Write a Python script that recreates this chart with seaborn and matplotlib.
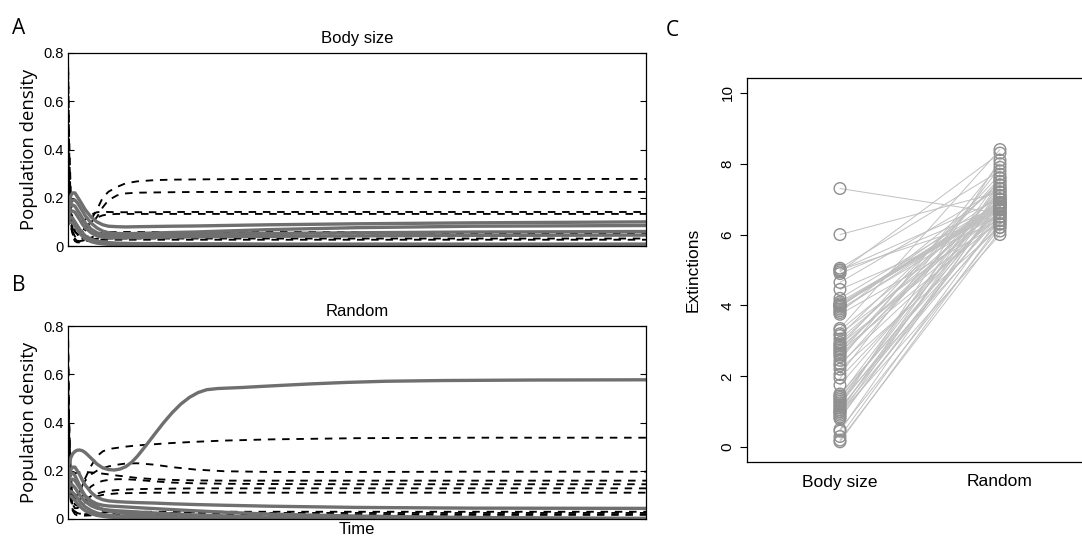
import numpy as np
import pandas as pd
import matplotlib
matplotlib.use("Agg")
import matplotlib.pyplot as plt
import seaborn as sns

# ---------------- data ----------------
time = [0, 2, 5, 8, 12, 16, 20, 25, 30, 40, 50, 60, 70, 85, 100, 120, 150, 180, 220, 270, 350, 500, 700, 1000]

# Panel A (Body size) - dashed black trajectories
a_dashed = [
    [0.78, 0.45, 0.20, 0.10, 0.06, 0.05, 0.05, 0.06, 0.08, 0.11, 0.15, 0.20, 0.225, 0.245, 0.26, 0.268, 0.273, 0.275, 0.276, 0.277, 0.278, 0.279, 0.278, 0.278],
    [0.60, 0.35, 0.16, 0.09, 0.06, 0.05, 0.05, 0.055, 0.065, 0.09, 0.12, 0.16, 0.19, 0.21, 0.218, 0.221, 0.222, 0.223, 0.224, 0.224, 0.224, 0.224, 0.224, 0.224],
    [0.35, 0.22, 0.13, 0.10, 0.09, 0.085, 0.09, 0.10, 0.11, 0.13, 0.14, 0.142, 0.141, 0.14, 0.14, 0.14, 0.14, 0.141, 0.141, 0.141, 0.141, 0.141, 0.141, 0.141],
    [0.45, 0.25, 0.12, 0.07, 0.05, 0.045, 0.05, 0.06, 0.075, 0.10, 0.118, 0.127, 0.131, 0.133, 0.133, 0.133, 0.133, 0.133, 0.133, 0.133, 0.133, 0.133, 0.133, 0.133],
    [0.30, 0.18, 0.10, 0.06, 0.04, 0.03, 0.028, 0.03, 0.035, 0.045, 0.052, 0.056, 0.058, 0.058, 0.058, 0.058, 0.058, 0.058, 0.058, 0.058, 0.058, 0.058, 0.058, 0.058],
    [0.80, 0.40, 0.15, 0.06, 0.03, 0.02, 0.018, 0.02, 0.025, 0.035, 0.045, 0.05, 0.052, 0.052, 0.052, 0.052, 0.052, 0.052, 0.052, 0.052, 0.052, 0.052, 0.052, 0.052],
    [0.25, 0.15, 0.08, 0.05, 0.03, 0.022, 0.02, 0.022, 0.025, 0.028, 0.03, 0.031, 0.031, 0.031, 0.031, 0.031, 0.031, 0.031, 0.031, 0.031, 0.031, 0.031, 0.031, 0.031],
    [0.50, 0.28, 0.10, 0.04, 0.02, 0.015, 0.015, 0.017, 0.02, 0.023, 0.025, 0.026, 0.026, 0.026, 0.026, 0.026, 0.026, 0.026, 0.026, 0.026, 0.026, 0.026, 0.026, 0.026],
]
# Panel A - solid grey trajectories
a_grey = [
    [0.15, 0.18, 0.21, 0.22, 0.22, 0.205, 0.19, 0.17, 0.15, 0.12, 0.10, 0.088, 0.082, 0.08, 0.079, 0.08, 0.081, 0.082, 0.083, 0.085, 0.088, 0.092, 0.096, 0.10],
    [0.12, 0.15, 0.18, 0.19, 0.19, 0.18, 0.165, 0.145, 0.125, 0.095, 0.075, 0.062, 0.055, 0.052, 0.051, 0.052, 0.054, 0.056, 0.058, 0.062, 0.068, 0.076, 0.082, 0.085],
    [0.14, 0.16, 0.17, 0.17, 0.165, 0.15, 0.135, 0.115, 0.095, 0.07, 0.055, 0.048, 0.045, 0.044, 0.044, 0.045, 0.046, 0.047, 0.048, 0.05, 0.052, 0.055, 0.058, 0.06],
    [0.11, 0.13, 0.145, 0.145, 0.14, 0.125, 0.11, 0.09, 0.075, 0.055, 0.042, 0.036, 0.034, 0.034, 0.034, 0.035, 0.036, 0.037, 0.038, 0.039, 0.04, 0.042, 0.044, 0.045],
    [0.10, 0.11, 0.12, 0.115, 0.10, 0.085, 0.07, 0.055, 0.042, 0.028, 0.02, 0.016, 0.014, 0.012, 0.011, 0.01, 0.01, 0.009, 0.009, 0.009, 0.008, 0.008, 0.008, 0.008],
    [0.09, 0.095, 0.10, 0.095, 0.085, 0.07, 0.055, 0.04, 0.03, 0.018, 0.012, 0.009, 0.007, 0.006, 0.005, 0.005, 0.004, 0.004, 0.004, 0.003, 0.003, 0.003, 0.003, 0.003],
]

# Panel B (Random) - dashed black trajectories
b_dashed = [
    [0.75, 0.40, 0.18, 0.10, 0.08, 0.09, 0.11, 0.14, 0.17, 0.22, 0.26, 0.28, 0.29, 0.295, 0.30, 0.305, 0.31, 0.315, 0.32, 0.325, 0.33, 0.335, 0.337, 0.337],
    [0.50, 0.30, 0.15, 0.10, 0.09, 0.10, 0.12, 0.14, 0.16, 0.185, 0.20, 0.21, 0.218, 0.225, 0.23, 0.231, 0.225, 0.215, 0.205, 0.198, 0.195, 0.195, 0.196, 0.196],
    [0.60, 0.35, 0.20, 0.19, 0.19, 0.192, 0.194, 0.195, 0.195, 0.193, 0.19, 0.188, 0.185, 0.18, 0.176, 0.17, 0.165, 0.162, 0.16, 0.159, 0.159, 0.159, 0.159, 0.159],
    [0.40, 0.25, 0.14, 0.09, 0.07, 0.07, 0.08, 0.095, 0.11, 0.135, 0.15, 0.158, 0.162, 0.165, 0.165, 0.162, 0.156, 0.151, 0.148, 0.146, 0.145, 0.144, 0.144, 0.144],
    [0.30, 0.20, 0.12, 0.08, 0.06, 0.055, 0.06, 0.07, 0.08, 0.095, 0.105, 0.112, 0.117, 0.12, 0.122, 0.124, 0.125, 0.126, 0.127, 0.127, 0.127, 0.127, 0.127, 0.127],
    [0.35, 0.20, 0.10, 0.06, 0.045, 0.045, 0.05, 0.06, 0.07, 0.085, 0.094, 0.10, 0.103, 0.106, 0.107, 0.108, 0.109, 0.109, 0.109, 0.109, 0.109, 0.109, 0.109, 0.109],
    [0.80, 0.40, 0.12, 0.05, 0.03, 0.025, 0.022, 0.022, 0.023, 0.025, 0.027, 0.028, 0.029, 0.03, 0.03, 0.03, 0.03, 0.03, 0.03, 0.03, 0.03, 0.03, 0.03, 0.03],
    [0.28, 0.15, 0.07, 0.04, 0.03, 0.025, 0.022, 0.02, 0.02, 0.021, 0.022, 0.023, 0.024, 0.025, 0.025, 0.025, 0.025, 0.025, 0.025, 0.025, 0.025, 0.025, 0.025, 0.025],
    [0.45, 0.22, 0.08, 0.035, 0.02, 0.015, 0.013, 0.013, 0.014, 0.015, 0.016, 0.017, 0.017, 0.017, 0.017, 0.017, 0.017, 0.017, 0.017, 0.017, 0.017, 0.017, 0.017, 0.017],
]
# Panel B - the one dominant grey species (read at a finer time resolution)
b_top_time = [0, 2, 5, 8, 12, 16, 20, 25, 30, 40, 50, 60, 70, 80, 90, 100, 110, 120, 135, 150,
              165, 180, 195, 210, 225, 240, 260, 280, 300, 330, 370, 420, 480, 550, 650, 800, 1000]
b_top_values = [0.20, 0.23, 0.255, 0.27, 0.28, 0.285, 0.286, 0.283, 0.275, 0.252, 0.228, 0.212, 0.205, 0.203, 0.207, 0.217, 0.235, 0.26, 0.305, 0.352,
                0.398, 0.44, 0.476, 0.504, 0.524, 0.536, 0.541, 0.543, 0.545, 0.549, 0.554, 0.56, 0.566, 0.571, 0.574, 0.576, 0.577]
# Panel B - other solid grey trajectories
b_grey = [
    [0.15, 0.18, 0.205, 0.215, 0.215, 0.20, 0.185, 0.16, 0.14, 0.11, 0.09, 0.08, 0.075, 0.072, 0.07, 0.068, 0.066, 0.063, 0.06, 0.057, 0.053, 0.048, 0.045, 0.044],
    [0.13, 0.15, 0.165, 0.165, 0.16, 0.145, 0.13, 0.11, 0.095, 0.075, 0.063, 0.057, 0.054, 0.052, 0.05, 0.047, 0.043, 0.039, 0.034, 0.028, 0.02, 0.012, 0.006, 0.003],
    [0.12, 0.135, 0.145, 0.14, 0.13, 0.115, 0.10, 0.085, 0.072, 0.055, 0.045, 0.04, 0.037, 0.034, 0.032, 0.029, 0.025, 0.021, 0.017, 0.013, 0.008, 0.004, 0.002, 0.001],
    [0.10, 0.11, 0.115, 0.11, 0.10, 0.088, 0.075, 0.062, 0.05, 0.035, 0.025, 0.019, 0.016, 0.013, 0.011, 0.009, 0.007, 0.005, 0.004, 0.003, 0.002, 0.001, 0.001, 0.0],
    [0.14, 0.17, 0.19, 0.19, 0.18, 0.16, 0.14, 0.115, 0.095, 0.068, 0.05, 0.04, 0.033, 0.027, 0.023, 0.018, 0.013, 0.009, 0.006, 0.004, 0.002, 0.001, 0.0, 0.0],
    [0.09, 0.095, 0.095, 0.088, 0.077, 0.065, 0.055, 0.043, 0.034, 0.022, 0.015, 0.011, 0.008, 0.006, 0.005, 0.004, 0.003, 0.002, 0.001, 0.001, 0.0, 0.0, 0.0, 0.0],
]

# Panel C - paired extinctions
conditions = ["Body size", "Random"]
ext_body_size = [7.3, 6.0, 5.05, 5.0, 5.0, 4.95, 4.9, 4.65, 4.45, 4.2,
                 4.1, 4.05, 4.0, 4.0, 4.0, 4.0, 4.0, 3.95, 3.9, 3.85,
                 3.8, 3.75, 3.35, 3.3, 3.2, 3.15, 3.05, 2.95, 2.9, 2.85,
                 2.8, 2.75, 2.7, 2.65, 2.6, 2.55, 2.45, 2.35, 2.3, 2.2,
                 2.05, 1.95, 1.75, 1.5, 1.45, 1.4, 1.35, 1.3, 1.25, 1.2,
                 1.15, 1.1, 1.05, 1.0, 1.0, 0.95, 0.9, 0.85, 0.8, 0.5,
                 0.45, 0.3, 0.2, 0.15]
ext_random = [6.6, 7.2, 7.8, 6.5, 7.0, 8.3, 6.8, 7.3, 6.4, 6.9,
              6.7, 6.8, 6.75, 6.8, 6.85, 6.7, 6.9, 7.1, 6.6, 6.8,
              7.4, 6.3, 8.4, 7.0, 6.6, 7.5, 6.9, 7.2, 6.5, 7.7,
              6.8, 7.0, 6.4, 7.6, 6.9, 7.1, 8.0, 6.6, 7.3, 6.2,
              7.9, 6.7, 7.0, 6.5, 7.4, 6.8, 7.2, 6.3, 7.6, 6.9,
              8.1, 6.6, 7.1, 6.4, 7.5, 6.0, 7.3, 6.7, 6.9, 6.2,
              7.0, 6.5, 6.1, 6.3]

density_ticks = [0, 0.2, 0.4, 0.6, 0.8]
density_ticklabels = ["0", "0.2", "0.4", "0.6", "0.8"]
ext_ticks = [0, 2, 4, 6, 8, 10]

# ---------------- style ----------------
sns.set_style("white")
plt.rcParams["font.family"] = ["Liberation Sans", "DejaVu Sans"]
plt.rcParams["axes.edgecolor"] = "black"
plt.rcParams["axes.linewidth"] = 0.9
for key in ["text.color", "axes.labelcolor", "xtick.color", "ytick.color"]:
    plt.rcParams[key] = "black"

W, H = 1082, 538
fig = plt.figure(figsize=(W / 100, H / 100), dpi=100)

def frac(x0, y0, x1, y1):
    return [x0 / W, 1 - y1 / H, (x1 - x0) / W, (y1 - y0) / H]

axA = fig.add_axes(frac(68, 53, 646, 246))
axB = fig.add_axes(frac(68, 326, 646, 519))
axC = fig.add_axes(frac(747, 78, 1100, 462))

dash_style = (0, (4, 3.6))
grey_col = "#6f6f6f"

def draw_ts(ax, dashed, grey, title, extra=None):
    for vals in dashed:
        sns.lineplot(x=time, y=vals, ax=ax, color="black", lw=1.35,
                     linestyle=dash_style, estimator=None)
    for vals in grey:
        sns.lineplot(x=time, y=vals, ax=ax, color=grey_col, lw=2.4,
                     estimator=None)
    if extra is not None:
        sns.lineplot(x=extra[0], y=extra[1], ax=ax, color=grey_col, lw=2.4,
                     estimator=None)
    ax.set_xlim(0, 1000)
    ax.set_ylim(0, 0.8)
    ax.set_xticks([])
    ax.set_yticks(density_ticks)
    ax.set_yticklabels(density_ticklabels)
    ax.tick_params(axis="y", direction="in", left=True, right=True,
                   labelright=False, length=4.3, width=0.8, labelsize=10.5, pad=3)
    for s in ax.spines.values():
        s.set_visible(True)
        s.set_linewidth(0.9)
    ax.set_title(title, fontsize=12, pad=7)
    ax.set_ylabel("Population density", family=["Open Sans", "DejaVu Sans"],
                  fontsize=13.3, labelpad=4)
    ax.set_xlabel("")

draw_ts(axA, a_dashed, a_grey, "Body size")
draw_ts(axB, b_dashed, b_grey, "Random", extra=(b_top_time, b_top_values))
axB.set_xlabel("Time", fontsize=12, labelpad=2)

# Panel C
n = len(ext_body_size)
df = pd.DataFrame({
    "id": list(range(n)) * 2,
    "pos": [0] * n + [1] * n,
    "ext": ext_body_size + ext_random,
})
sns.lineplot(data=df, x="pos", y="ext", units="id", estimator=None,
             color="#c0c0c0", lw=0.7, ax=axC)
axC.scatter(df["pos"], df["ext"], s=70, facecolors="none",
            edgecolors="#8f8f8f", linewidths=1.0, zorder=3)
axC.set_xlim(-0.581, 1.625)
axC.set_ylim(-0.42, 10.42)
axC.set_xticks([0, 1])
axC.set_xticklabels(conditions)
axC.set_yticks(ext_ticks)
axC.set_yticklabels([str(v) for v in ext_ticks])
axC.tick_params(axis="x", length=0, pad=9, labelsize=12.5)
axC.tick_params(axis="y", direction="out", left=True, length=5, width=0.8,
                labelsize=11, labelrotation=90, pad=4)
for lbl in axC.get_yticklabels():
    lbl.set_va("center")
for s in axC.spines.values():
    s.set_visible(True)
    s.set_linewidth(0.9)
axC.set_xlabel("")
axC.set_ylabel("Extinctions", fontsize=12.5, labelpad=14)

# panel letters
letter_font = ["Open Sans", "DejaVu Sans"]
fig.text(12 / W, 1 - 34 / H, "A", fontsize=15, family=letter_font)
fig.text(12 / W, 1 - 291 / H, "B", fontsize=15, family=letter_font)
fig.text(666 / W, 1 - 36 / H, "C", fontsize=15, family=letter_font)

fig.savefig("out.png", dpi=100)
